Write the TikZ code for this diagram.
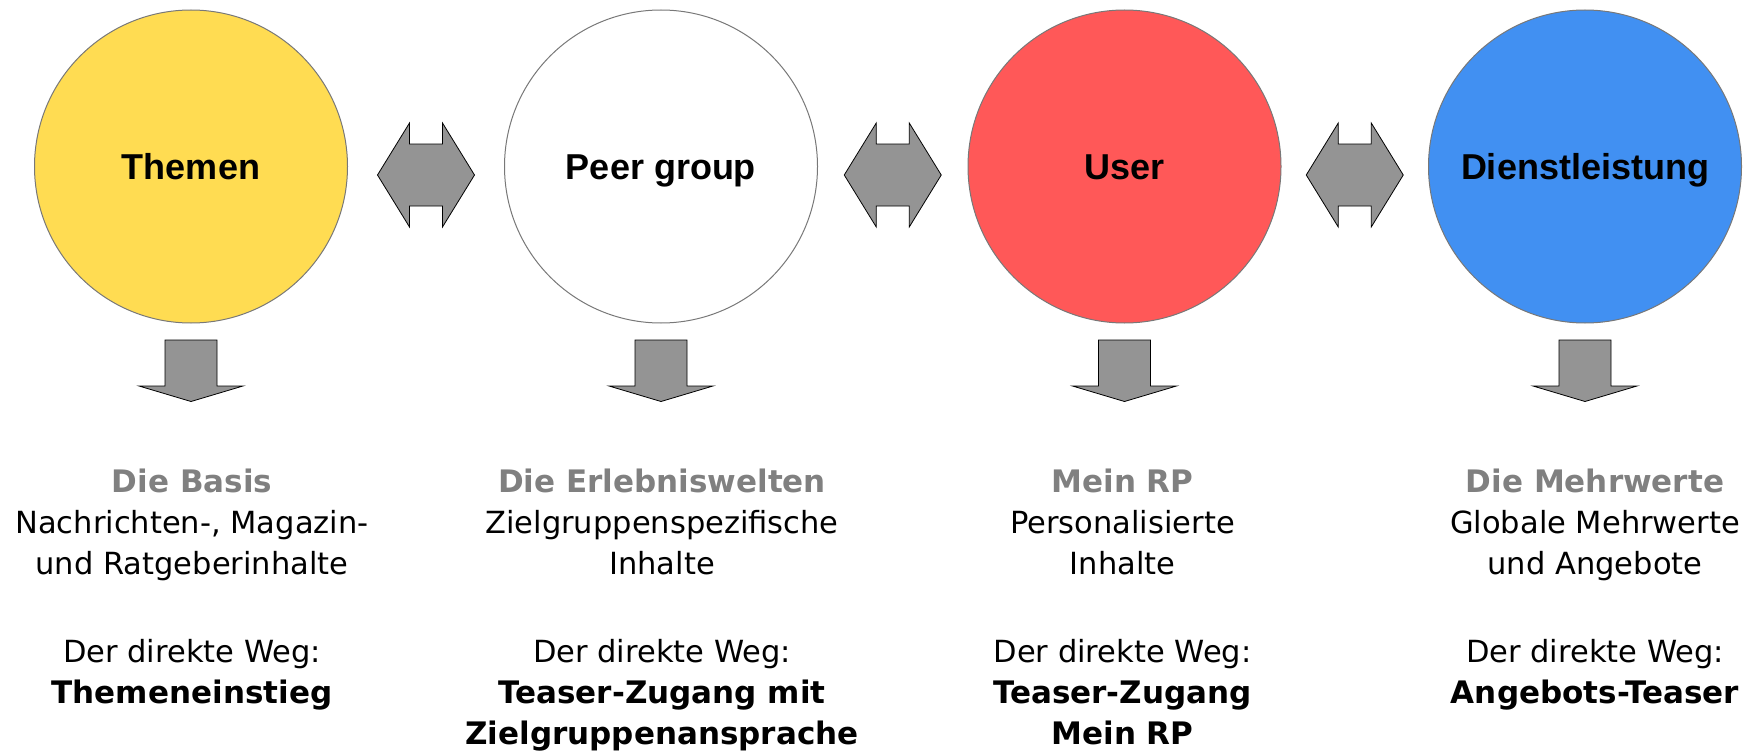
\documentclass[tikz,border=0pt]{standalone}
\usepackage{fontspec}
\setmainfont{DejaVu Sans}
\newfontfamily\kreisfont{Liberation Sans}
\usepackage{tikz}
\usetikzlibrary{calc,shapes}
\definecolor{themengelb}{RGB}{255,220,82}
\definecolor{userrot}{RGB}{255,88,88}
\definecolor{dienstblau}{RGB}{65,144,242}
\definecolor{pfeilgrau}{RGB}{148,148,148}
\definecolor{kopfgrau}{RGB}{128,128,128}
\definecolor{kreisrand}{RGB}{120,120,120}
\newcommand{\kopf}[1]{\textcolor{kopfgrau}{\fontsize{31}{41}\selectfont\bfseries #1}}
\newcommand{\weg}[1]{{\fontsize{31}{41}\selectfont\bfseries #1}}

\begin{document}
\begin{tikzpicture}[x=1pt,y=-1pt,line join=miter,
  kreis/.style={circle,draw=kreisrand,line width=1pt,minimum size=313pt,inner sep=0pt,
    font=\kreisfont\fontsize{36}{40}\selectfont\bfseries,text height=26pt,text depth=0pt},
  spalte/.style={align=center,inner sep=0pt,anchor=north,font=\fontsize{30.5}{41}\selectfont},
  pfeil/.style={draw=black,line width=0.8pt,fill=pfeilgrau}]
  \useasboundingbox (0,0) rectangle (1759,752);
  % circles
  \node (themen) at (191,166.5) [kreis,fill=themengelb] {Themen};
  \node (peer) at (661,166.5) [kreis,fill=white] {Peer group};
  \node (user) at (1124.5,166.5) [kreis,fill=userrot] {User};
  \node (dienst) at (1585,166.5) [kreis,fill=dienstblau] {Dienstleistung};
  % arrows
  \foreach \a/\b in {themen/peer,peer/user,user/dienst}
    \draw [pfeil,shift={($(\a.east)!.5!(\b.west)+(0,8.5)$)}] (-48.5,0) --
      (-16.5,-52) -- (-16.5,-31) -- (16.5,-31) -- (16.5,-52) -- (48.5,0) --
      (16.5,52) -- (16.5,31) -- (-16.5,31) -- (-16.5,52) -- cycle;
  \foreach \k in {themen,peer,user,dienst}
    \draw [pfeil,shift={(\k.south)}] (-26,16.5) -- (26,16.5) -- (26,62.5) --
      (52,62.5) -- (0,78) -- (-52,62.5) -- (-26,62.5) -- cycle;
  % texts
  \node (basis) at (192,468.5) [spalte] {\kopf{Die Basis}\\
    Nachrichten-, Magazin-\\ und Ratgeberinhalte\\[47pt]
    Der direkte Weg:\\ \weg{Themeneinstieg}};
  \node (welten) at (662,468.5) [spalte] {\kopf{Die Erlebniswelten}\\
    Zielgruppenspezifische\\ Inhalte\\[47pt]
    Der direkte Weg:\\ \weg{Teaser-Zugang mit}\\ \weg{Zielgruppenansprache}};
  \node (meinrp) at (1122.5,468.5) [spalte] {\kopf{Mein RP}\\
    Personalisierte\\ Inhalte\\[47pt]
    Der direkte Weg:\\ \weg{Teaser-Zugang}\\ \weg{Mein RP}};
  \node (mehrwerte) at (1595,468.5) [spalte] {\kopf{Die Mehrwerte}\\
    Globale Mehrwerte\\ und Angebote\\[47pt]
    Der direkte Weg:\\ \weg{Angebots-Teaser}};
\end{tikzpicture}
\end{document}
